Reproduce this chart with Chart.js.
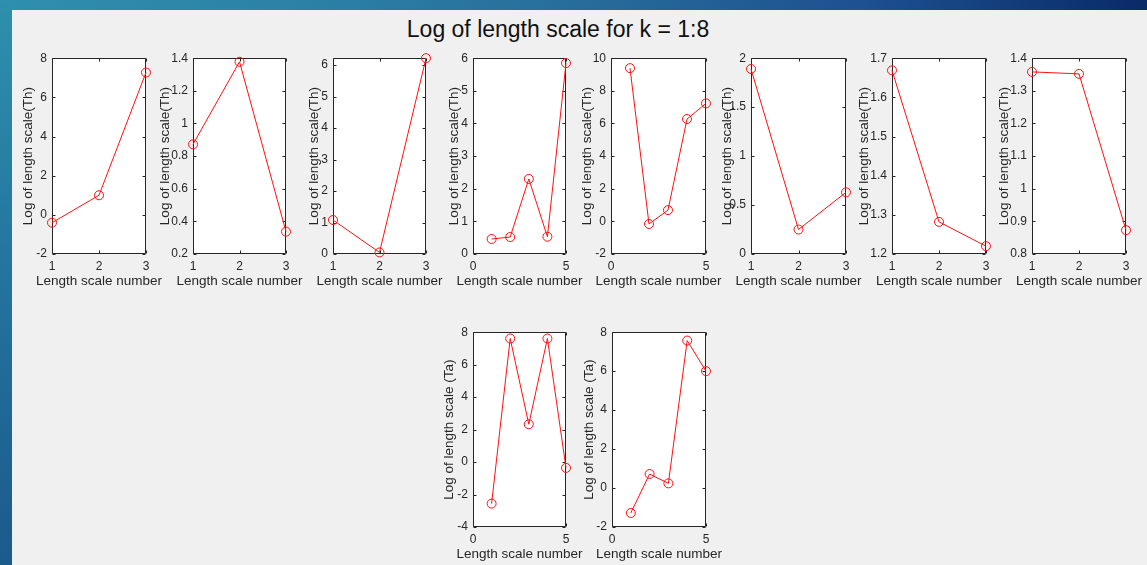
<!DOCTYPE html>
<html>
<head>
<meta charset="utf-8">
<title>Log of length scale for k = 1:8</title>
<script src="https://cdn.jsdelivr.net/npm/chart.js@4.4.1/dist/chart.umd.min.js"></script>
<style>
  html, body { margin: 0; padding: 0; }
  body {
    width: 1147px; height: 565px; overflow: hidden; position: relative;
    background: linear-gradient(90deg, #2e90ac 0%, #2b80a6 28%, #276d9b 50%, #1d5190 75%, #0a2a68 100%);
    font-family: "Liberation Sans", Arial, sans-serif;
  }
  #leftStrip { position: absolute; left: 0; top: 0; width: 12px; height: 565px;
               background: linear-gradient(180deg, #2e90ac 0%, #23739f 50%, #1b5a8c 100%); }
  #figure { position: absolute; left: 12px; top: 10px; right: 0; bottom: 0; background: #f0f0f0; }
  #suptitle { position: absolute; left: 358px; top: 16px; width: 400px; text-align: center;
              font-size: 23px; line-height: 26px; color: #111; white-space: nowrap; }
  canvas { position: absolute; }
</style>
</head>
<body>
<div id="leftStrip"></div>
<div id="figure"></div>
<div id="suptitle">Log of length scale for k = 1:8</div>
<div id="plots"></div>

<script>
// x positions (length scale number)
const xThree = [1, 2, 3];
const xFive = [1, 2, 3, 4, 5];

// log of length scale, Th (k = 1..8)
const th1 = [-0.40, 1.00, 7.27];
const th2 = [0.872, 1.378, 0.337];
const th3 = [1.08, 0.05, 6.22];
const th4 = [0.46, 0.52, 2.30, 0.53, 5.85];
const th5 = [9.39, -0.16, 0.69, 6.27, 7.23];
const th6 = [1.89, 0.25, 0.63];
const th7 = [1.669, 1.282, 1.220];
const th8 = [1.358, 1.352, 0.873];

// log of length scale, Ta
const ta1 = [-2.56, 7.61, 2.33, 7.61, -0.36];
const ta2 = [-1.28, 0.72, 0.24, 7.57, 6.00];

// tick values per axis
const xTicksThree = [1, 2, 3];
const xTicksFive = [0, 5];
const yTicks1 = [-2, 0, 2, 4, 6, 8];
const yTicks2 = [0.2, 0.4, 0.6, 0.8, 1, 1.2, 1.4];
const yTicks3 = [0, 1, 2, 3, 4, 5, 6];
const yTicks4 = [0, 1, 2, 3, 4, 5, 6];
const yTicks5 = [-2, 0, 2, 4, 6, 8, 10];
const yTicks6 = [0, 0.5, 1, 1.5, 2];
const yTicks7 = [1.2, 1.3, 1.4, 1.5, 1.6, 1.7];
const yTicks8 = [0.8, 0.9, 1, 1.1, 1.2, 1.3, 1.4];
const yTicks9 = [-4, -2, 0, 2, 4, 6, 8];
const yTicks10 = [-2, 0, 2, 4, 6, 8];

const labelTh = 'Log of length scale(Th)';
const labelTa = 'Log of length scale (Ta)';
const labelX = 'Length scale number';

// subplot definitions: data + axis limits
const subplots = [
  { x: xThree, y: th1, xMin: 1, xMax: 3, yMin: -2,  yMax: 8,    xt: xTicksThree, yt: yTicks1,  yLabel: labelTh },
  { x: xThree, y: th2, xMin: 1, xMax: 3, yMin: 0.2, yMax: 1.4,  xt: xTicksThree, yt: yTicks2,  yLabel: labelTh },
  { x: xThree, y: th3, xMin: 1, xMax: 3, yMin: 0,   yMax: 6.22, xt: xTicksThree, yt: yTicks3,  yLabel: labelTh },
  { x: xFive,  y: th4, xMin: 0, xMax: 5, yMin: 0,   yMax: 6,    xt: xTicksFive,  yt: yTicks4,  yLabel: labelTh },
  { x: xFive,  y: th5, xMin: 0, xMax: 5, yMin: -2,  yMax: 10,   xt: xTicksFive,  yt: yTicks5,  yLabel: labelTh },
  { x: xThree, y: th6, xMin: 1, xMax: 3, yMin: 0,   yMax: 2,    xt: xTicksThree, yt: yTicks6,  yLabel: labelTh },
  { x: xThree, y: th7, xMin: 1, xMax: 3, yMin: 1.2, yMax: 1.7,  xt: xTicksThree, yt: yTicks7,  yLabel: labelTh },
  { x: xThree, y: th8, xMin: 1, xMax: 3, yMin: 0.8, yMax: 1.4,  xt: xTicksThree, yt: yTicks8,  yLabel: labelTh },
  { x: xFive,  y: ta1, xMin: 0, xMax: 5, yMin: -4,  yMax: 8,    xt: xTicksFive,  yt: yTicks9,  yLabel: labelTa },
  { x: xFive,  y: ta2, xMin: 0, xMax: 5, yMin: -2,  yMax: 8,    xt: xTicksFive,  yt: yTicks10, yLabel: labelTa }
];

// axes placement on the page (left, top, width, height of the plot box, y-label gap)
const axesLayout = [
  { left: 52,   top: 58,  w: 94, h: 196, gap: 24 },
  { left: 193,  top: 58,  w: 93, h: 196, gap: 28 },
  { left: 333,  top: 58,  w: 93, h: 196, gap: 18.5 },
  { left: 473,  top: 58,  w: 93, h: 196, gap: 19 },
  { left: 611,  top: 58,  w: 95, h: 196, gap: 23.5 },
  { left: 751,  top: 58,  w: 95, h: 196, gap: 23.5 },
  { left: 892,  top: 58,  w: 94, h: 196, gap: 27.5 },
  { left: 1032, top: 58,  w: 94, h: 196, gap: 27.5 },
  { left: 473,  top: 332, w: 93, h: 195, gap: 23.5 },
  { left: 612,  top: 332, w: 94, h: 195, gap: 23 }
];

const PAD_L = 60, PAD_T = 12, PAD_R = 22, PAD_B = 46;
const X_TITLE_DY = 27.5; // x-label centre below the axes box
const RED = '#ff1010';
const AXIS = '#262626';
const FONT = '"Liberation Sans", Arial, sans-serif';
const TICK_FONT = { family: FONT, size: 12 };
const LABEL_FONT = { family: FONT, size: 13.5, lineHeight: 1.2 };
const LABEL_LH = 13.5 * 1.2;

const fmt = v => String(Math.round(v * 1000) / 1000);

// white axes background, box, inward ticks on all four sides and the x label
const axesBox = {
  id: 'axesBox',
  beforeDraw(chart) {
    const { ctx, chartArea: a } = chart;
    ctx.save();
    ctx.fillStyle = '#ffffff';
    ctx.fillRect(a.left, a.top, a.right - a.left, a.bottom - a.top);
    ctx.restore();
  },
  beforeDatasetsDraw(chart) {
    const { ctx, chartArea: a, scales } = chart;
    const L = Math.round(a.left) + 0.5, R = Math.round(a.right) - 0.5;
    const T = Math.round(a.top) + 0.5, B = Math.round(a.bottom) - 0.5;
    const len = 3;
    ctx.save();
    ctx.strokeStyle = AXIS;
    ctx.lineWidth = 1;
    ctx.beginPath();
    ctx.rect(L, T, R - L, B - T);
    scales.y.ticks.forEach(t => {
      const py = Math.round(scales.y.getPixelForValue(t.value)) + 0.5;
      ctx.moveTo(L, py); ctx.lineTo(L + len, py);
      ctx.moveTo(R, py); ctx.lineTo(R - len, py);
    });
    scales.x.ticks.forEach(t => {
      const px = Math.round(scales.x.getPixelForValue(t.value)) + 0.5;
      ctx.moveTo(px, B); ctx.lineTo(px, B - len);
      ctx.moveTo(px, T); ctx.lineTo(px, T + len);
    });
    ctx.stroke();
    ctx.restore();
  },
  afterDraw(chart) {
    // the x label is wider than the axes box, so it is drawn here instead of the
    // scale title (which would squeeze it to the box width)
    const { ctx, chartArea: a } = chart;
    ctx.save();
    ctx.fillStyle = AXIS;
    ctx.font = `${LABEL_FONT.size}px ${FONT}`;
    ctx.textAlign = 'center';
    ctx.textBaseline = 'middle';
    ctx.fillText(labelX, (a.left + a.right) / 2, a.bottom + X_TITLE_DY);
    ctx.restore();
  }
};

const holder = document.getElementById('plots');

subplots.forEach((sp, i) => {
  const box = axesLayout[i];
  const canvas = document.createElement('canvas');
  const w = box.w + PAD_L + PAD_R;
  const h = box.h + PAD_T + PAD_B;
  canvas.width = w;
  canvas.height = h;
  canvas.style.width = w + 'px';
  canvas.style.height = h + 'px';
  canvas.style.left = (box.left - PAD_L) + 'px';
  canvas.style.top = (box.top - PAD_T) + 'px';
  holder.appendChild(canvas);

  new Chart(canvas, {
    type: 'line',
    data: {
      datasets: [{
        data: sp.x.map((x, k) => ({ x: x, y: sp.y[k] })),
        borderColor: RED,
        borderWidth: 1,
        pointStyle: 'circle',
        pointRadius: 4.5,
        pointBorderWidth: 1,
        pointBorderColor: RED,
        pointBackgroundColor: 'rgba(0,0,0,0)',
        tension: 0,
        fill: false,
        clip: false
      }]
    },
    options: {
      responsive: false,
      animation: false,
      events: [],
      layout: { padding: { left: 0, top: PAD_T, right: PAD_R, bottom: 0 } },
      plugins: { legend: { display: false }, tooltip: { enabled: false } },
      scales: {
        x: {
          type: 'linear',
          min: sp.xMin,
          max: sp.xMax,
          grid: { display: false, drawTicks: false },
          border: { display: false },
          ticks: { color: AXIS, font: TICK_FONT, padding: 5, autoSkip: false, maxRotation: 0, callback: fmt },
          afterBuildTicks: s => { s.ticks = sp.xt.map(v => ({ value: v })); },
          afterFit: s => { s.height = PAD_B; }
        },
        y: {
          type: 'linear',
          min: sp.yMin,
          max: sp.yMax,
          grid: { display: false, drawTicks: false },
          border: { display: false },
          ticks: { color: AXIS, font: TICK_FONT, padding: 5, autoSkip: false, callback: fmt },
          afterBuildTicks: s => { s.ticks = sp.yt.map(v => ({ value: v })); },
          afterFit: s => { s.width = PAD_L; },
          title: {
            display: true, text: sp.yLabel, color: AXIS, font: LABEL_FONT,
            padding: { top: PAD_L - box.gap - LABEL_LH / 2, bottom: 0 }
          }
        }
      }
    },
    plugins: [axesBox]
  });
});
</script>
</body>
</html>
